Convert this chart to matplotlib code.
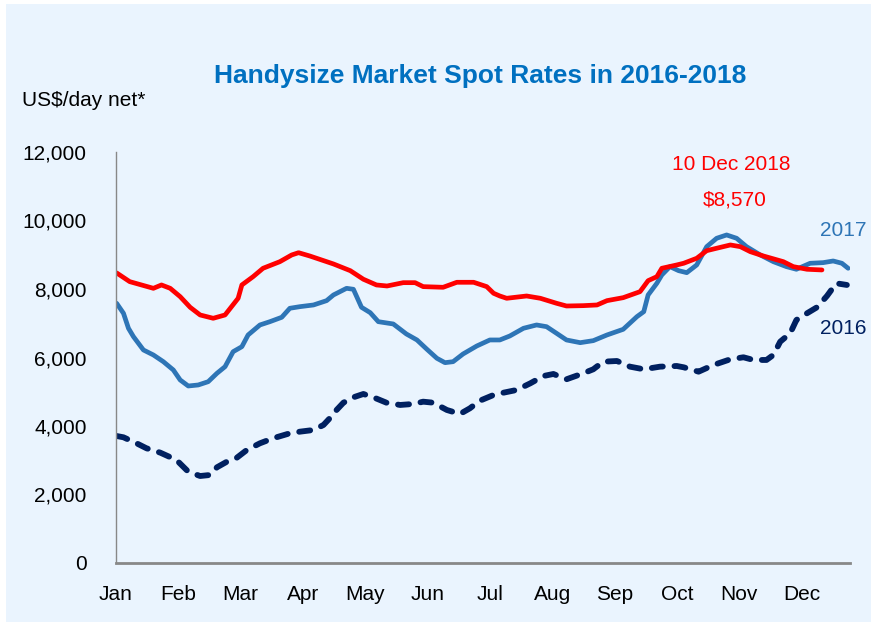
import matplotlib
matplotlib.use("Agg")
import matplotlib.pyplot as plt
from matplotlib.patches import Rectangle

plt.rcParams['font.family'] = ['Liberation Sans', 'DejaVu Sans']

# x positions are in months from the start of January
months = ['Jan', 'Feb', 'Mar', 'Apr', 'May', 'Jun', 'Jul', 'Aug', 'Sep', 'Oct', 'Nov', 'Dec']

x_2018 = [0.01, 0.22, 0.60, 0.73, 0.87, 1.03, 1.19, 1.35, 1.56, 1.75, 1.96, 2.02, 2.20, 2.36,
          2.63, 2.82, 2.93, 3.11, 3.49, 3.76, 3.97, 4.18, 4.35, 4.61, 4.80, 4.93, 5.25, 5.47,
          5.74, 5.95, 6.06, 6.16, 6.27, 6.59, 6.81, 7.07, 7.23, 7.50, 7.72, 7.88, 8.14, 8.41,
          8.54, 8.68, 8.76, 9.00, 9.11, 9.32, 9.48, 9.64, 9.86, 10.02, 10.18, 10.39, 10.71,
          10.87, 11.09, 11.33]
rates_2018 = [8470, 8215, 8020, 8118, 8020, 7776, 7466, 7242, 7145, 7242, 7729, 8118, 8360, 8605,
              8798, 8994, 9060, 8964, 8731, 8535, 8285, 8118, 8088, 8185, 8185, 8069, 8050, 8196,
              8196, 8069, 7875, 7796, 7729, 7796, 7729, 7583, 7504, 7514, 7534, 7660, 7747, 7922,
              8243, 8360, 8605, 8702, 8751, 8897, 9119, 9190, 9286, 9236, 9090, 8964, 8798,
              8653, 8576, 8556]

x_2017 = [0.01, 0.12, 0.20, 0.28, 0.44, 0.60, 0.76, 0.92, 1.03, 1.16, 1.32, 1.48, 1.62, 1.75,
          1.88, 2.02, 2.12, 2.31, 2.47, 2.66, 2.79, 2.95, 3.17, 3.38, 3.49, 3.70, 3.81, 3.94,
          4.08, 4.21, 4.45, 4.66, 4.83, 4.99, 5.15, 5.28, 5.41, 5.57, 5.79, 6.00, 6.16, 6.32,
          6.54, 6.75, 6.91, 7.07, 7.23, 7.45, 7.66, 7.88, 8.14, 8.36, 8.47, 8.54, 8.68, 8.76,
          8.89, 9.03, 9.16, 9.32, 9.48, 9.64, 9.80, 9.96, 10.12, 10.34, 10.55, 10.76, 10.92,
          11.14, 11.35, 11.51, 11.65, 11.75]
rates_2017 = [7583, 7291, 6853, 6609, 6220, 6074, 5878, 5636, 5344, 5168, 5198, 5294, 5539, 5732,
              6170, 6316, 6658, 6950, 7046, 7174, 7437, 7484, 7534, 7660, 7826, 8020, 7992, 7466,
              7309, 7046, 6979, 6687, 6512, 6240, 5977, 5849, 5878, 6103, 6336, 6512, 6512, 6628,
              6853, 6950, 6900, 6707, 6512, 6433, 6492, 6658, 6823, 7192, 7338, 7826, 8167, 8410,
              8653, 8535, 8477, 8702, 9236, 9481, 9578, 9481, 9236, 8994, 8798, 8653, 8576,
              8751, 8770, 8818, 8751, 8605]

x_2016 = [0.01, 0.12, 0.33, 0.49, 0.71, 0.97, 1.16, 1.35, 1.51, 1.62, 1.78, 1.94, 2.10, 2.31,
          2.52, 2.79, 2.95, 3.17, 3.33, 3.43, 3.54, 3.65, 3.81, 3.97, 4.13, 4.34, 4.56, 4.77,
          4.93, 5.09, 5.31, 5.52, 5.68, 5.84, 6.06, 6.22, 6.43, 6.65, 6.86, 7.02, 7.23, 7.50,
          7.66, 7.82, 8.04, 8.25, 8.47, 8.73, 9.00, 9.11, 9.35, 9.59, 9.86, 10.07, 10.23,
          10.44, 10.55, 10.66, 10.82, 10.92, 11.09, 11.25, 11.41, 11.56, 11.73]
rates_2016 = [3708, 3670, 3495, 3349, 3222, 3008, 2666, 2540, 2570, 2794, 2958, 3075, 3300, 3495,
              3641, 3787, 3834, 3884, 4030, 4225, 4468, 4681, 4838, 4935, 4838, 4681, 4614, 4643,
              4710, 4681, 4468, 4351, 4517, 4739, 4906, 4973, 5052, 5247, 5460, 5519, 5364, 5539,
              5656, 5878, 5898, 5732, 5656, 5732, 5752, 5714, 5586, 5782, 5948, 6006, 5928,
              5928, 6074, 6462, 6707, 7096, 7291, 7466, 7796, 8167, 8118]

y_ticks = [0, 2000, 4000, 6000, 8000, 10000, 12000]

bg = '#EAF4FE'
red = '#FF0000'
blue17 = '#2E75B6'
navy16 = '#002060'

fig = plt.figure(figsize=(8.71, 6.22), dpi=100, facecolor='white')
fig.patches.append(Rectangle((6 / 871, 0), 1, 1 - 4 / 622, transform=fig.transFigure,
                             facecolor=bg, edgecolor='none', zorder=-10))

ax = fig.add_axes([116 / 871, 1 - 563 / 622, (850 - 116) / 871, (563 - 152) / 622])
ax.patch.set_alpha(0)

ax.plot(x_2016, rates_2016, color=navy16, lw=4.2, linestyle=(0, (1.9, 2.0)),
        dash_capstyle='round', solid_joinstyle='round')
ax.plot(x_2017, rates_2017, color=blue17, lw=3.4, solid_capstyle='round', solid_joinstyle='round')
ax.plot(x_2018, rates_2018, color=red, lw=3.4, solid_capstyle='round', solid_joinstyle='round')

ax.set_xlim(0, 11.78)
ax.set_ylim(0, 12000)
ax.set_yticks(y_ticks)
ax.set_yticklabels([f'{v:,}' for v in y_ticks])
ax.set_xticks(range(12))
ax.set_xticklabels(months)
ax.tick_params(axis='both', length=0, labelsize=15, labelcolor='black')
ax.tick_params(axis='y', pad=21)
ax.tick_params(axis='x', pad=16)

for side in ['top', 'right']:
    ax.spines[side].set_visible(False)
for side in ['left', 'bottom']:
    ax.spines[side].set_color('#888888')
ax.spines['left'].set_linewidth(1.0)
ax.spines['bottom'].set_linewidth(2.0)

fig.text(480 / 871, 1 - 76 / 622, 'Handysize Market Spot Rates in 2016-2018', ha='center', va='center',
         fontsize=19, fontweight='bold', color='#0070C0')
fig.text(22 / 871, 1 - 101 / 622, 'US$/day net*', ha='left', va='center', fontsize=15)

fig.text(731 / 871, 1 - 165 / 622, '10 Dec 2018', ha='center', va='center', fontsize=15, color=red)
fig.text(735 / 871, 1 - 200 / 622, '$8,570', ha='center', va='center', fontsize=15, color=red)
fig.text(843 / 871, 1 - 231 / 622, '2017', ha='center', va='center', fontsize=15, color=blue17)
fig.text(843 / 871, 1 - 329 / 622, '2016', ha='center', va='center', fontsize=15, color=navy16)

fig.savefig('out.png', dpi=100, facecolor=fig.get_facecolor())
